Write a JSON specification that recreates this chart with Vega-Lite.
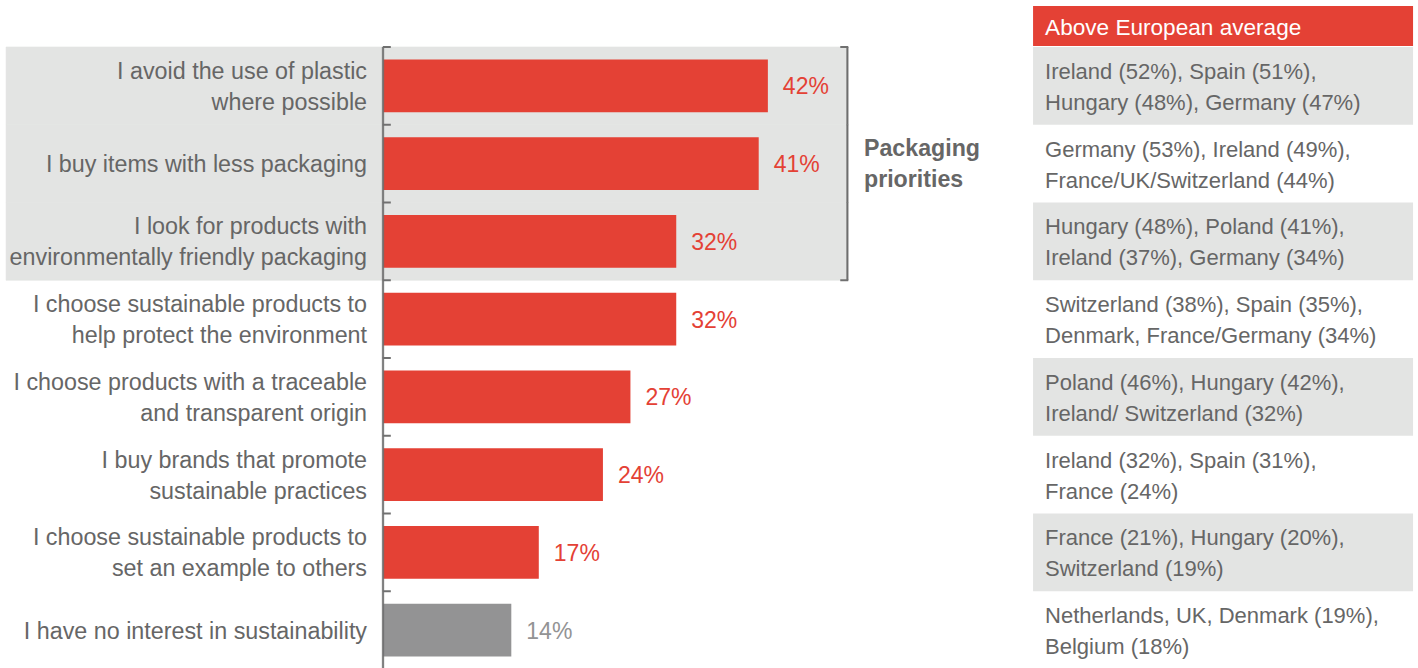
{
  "$schema": "https://vega.github.io/schema/vega-lite/v6.json",
  "padding": {"left": 0, "top": 6, "right": 0, "bottom": 0},
  "spacing": 0,
  "config": {
    "view": {"stroke": null},
    "axis": {"disable": true},
    "text": {"font": "Liberation Sans", "fontSize": 22, "lineHeight": 31, "lineBreak": "\n", "color": "#666666"}
  },
  "datasets": {
    "rows": [
      {"label": "I avoid the use of plastic\nwhere possible", "value": 0.42, "group": "Packaging priorities", "above": "Ireland (52%), Spain (51%),\nHungary (48%), Germany (47%)"},
      {"label": "I buy items with less packaging", "value": 0.41, "group": "Packaging priorities", "above": "Germany (53%), Ireland (49%),\nFrance/UK/Switzerland (44%)"},
      {"label": "I look for products with\nenvironmentally friendly packaging", "value": 0.32, "group": "Packaging priorities", "above": "Hungary (48%), Poland (41%),\nIreland (37%), Germany (34%)"},
      {"label": "I choose sustainable products to\nhelp protect the environment", "value": 0.32, "group": "Sustainable choices", "above": "Switzerland (38%), Spain (35%),\nDenmark, France/Germany (34%)"},
      {"label": "I choose products with a traceable\nand transparent origin", "value": 0.27, "group": "Sustainable choices", "above": "Poland (46%), Hungary (42%),\nIreland/ Switzerland (32%)"},
      {"label": "I buy brands that promote\nsustainable practices", "value": 0.24, "group": "Sustainable choices", "above": "Ireland (32%), Spain (31%),\nFrance (24%)"},
      {"label": "I choose sustainable products to\nset an example to others", "value": 0.17, "group": "Sustainable choices", "above": "France (21%), Hungary (20%),\nSwitzerland (19%)"},
      {"label": "I have no interest in sustainability", "value": 0.14, "group": "No interest", "above": "Netherlands, UK, Denmark (19%),\nBelgium (18%)"}
    ],
    "header": [{"title": "Above European average"}]
  },
  "vconcat": [
    {
      "width": 1418,
      "height": 40,
      "data": {"name": "header"},
      "layer": [
        {
          "mark": {"type": "rect", "color": "#E44135"},
          "encoding": {
            "x": {"datum": 0.7094, "type": "quantitative", "scale": {"domain": [-0.418, 1.1295], "nice": false, "zero": false}},
            "x2": {"datum": 1.1241},
            "y": {"datum": 0, "type": "quantitative", "scale": {"domain": [0, 1], "nice": false}},
            "y2": {"datum": 1}
          }
        },
        {
          "mark": {"type": "text", "align": "left", "baseline": "middle", "dx": 12, "dy": 1.5, "color": "#ffffff", "fontSize": 22.6},
          "encoding": {
            "x": {"datum": 0.7094, "type": "quantitative"},
            "y": {"datum": 0.5, "type": "quantitative"},
            "text": {"field": "title"}
          }
        }
      ]
    },
    {
      "width": 1418,
      "height": 622,
      "data": {"name": "rows"},
      "encoding": {
        "y": {"field": "label", "type": "nominal", "sort": null, "scale": {"paddingInner": 0, "paddingOuter": 0, "domain": [
          "I avoid the use of plastic\nwhere possible",
          "I buy items with less packaging",
          "I look for products with\nenvironmentally friendly packaging",
          "I choose sustainable products to\nhelp protect the environment",
          "I choose products with a traceable\nand transparent origin",
          "I buy brands that promote\nsustainable practices",
          "I choose sustainable products to\nset an example to others",
          "I have no interest in sustainability"
        ]}}
      },
      "layer": [
        {
          "transform": [{"filter": "datum.group === 'Packaging priorities'"}],
          "mark": {"type": "rect", "color": "#E3E4E3", "stroke": "#E3E4E3", "strokeWidth": 0.6},
          "encoding": {
            "x": {"datum": -0.4114, "type": "quantitative", "scale": {"domain": [-0.418, 1.1295], "nice": false, "zero": false}},
            "x2": {"datum": 0.5068}
          }
        },
        {
          "transform": [{"window": [{"op": "row_number", "as": "i"}]}, {"filter": "datum.i % 2 === 1"}],
          "mark": {"type": "rect", "color": "#E3E4E3"},
          "encoding": {
            "x": {"datum": 0.7094, "type": "quantitative"},
            "x2": {"datum": 1.1241}
          }
        },
        {
          "mark": {"type": "bar", "height": {"band": 0.68}},
          "encoding": {
            "x": {"field": "value", "type": "quantitative"},
            "color": {"field": "group", "type": "nominal", "legend": null, "scale": {"domain": ["Packaging priorities", "Sustainable choices", "No interest"], "range": ["#E44135", "#E44135", "#939394"]}}
          }
        },
        {
          "mark": {"type": "rect", "color": "#707070", "stroke": "#707070", "strokeWidth": 0.4},
          "encoding": {
            "x": {"datum": -0.0009, "type": "quantitative"},
            "x2": {"datum": 0.0009}
          }
        },
        {
          "mark": {"type": "rule", "color": "#707070", "strokeWidth": 2},
          "encoding": {
            "y": {"field": "label", "type": "nominal", "bandPosition": 0},
            "x": {"datum": 0, "type": "quantitative"},
            "x2": {"datum": 0.0085}
          }
        },
        {
          "transform": [{"filter": "datum.group === 'No interest'"}],
          "mark": {"type": "rule", "color": "#707070", "strokeWidth": 2},
          "encoding": {
            "y": {"field": "label", "type": "nominal", "bandPosition": 1},
            "x": {"datum": 0, "type": "quantitative"},
            "x2": {"datum": 0.0085}
          }
        },
        {
          "transform": [{"filter": "datum.group === 'Packaging priorities'"}],
          "mark": {"type": "rect", "color": "#707070", "stroke": "#707070", "strokeWidth": 0.4},
          "encoding": {
            "x": {"datum": 0.5059, "type": "quantitative"},
            "x2": {"datum": 0.5077}
          }
        },
        {
          "transform": [{"filter": "datum.label === 'I avoid the use of plastic\\nwhere possible'"}],
          "mark": {"type": "rule", "color": "#707070", "strokeWidth": 2},
          "encoding": {
            "y": {"field": "label", "type": "nominal", "bandPosition": 0},
            "x": {"datum": 0.4990, "type": "quantitative"},
            "x2": {"datum": 0.5077}
          }
        },
        {
          "transform": [{"filter": "datum.label === 'I look for products with\\nenvironmentally friendly packaging'"}],
          "mark": {"type": "rule", "color": "#707070", "strokeWidth": 2},
          "encoding": {
            "y": {"field": "label", "type": "nominal", "bandPosition": 1},
            "x": {"datum": 0.4990, "type": "quantitative"},
            "x2": {"datum": 0.5077}
          }
        },
        {
          "transform": [{"filter": "indexof(datum.label, '\\n') >= 0"}],
          "mark": {"type": "text", "align": "right", "baseline": "middle", "dx": -16, "dy": -14, "fontSize": 23.3},
          "encoding": {
            "x": {"datum": 0, "type": "quantitative"},
            "text": {"field": "label"}
          }
        },
        {
          "transform": [{"filter": "indexof(datum.label, '\\n') < 0"}],
          "mark": {"type": "text", "align": "right", "baseline": "middle", "dx": -16, "dy": 1.5, "fontSize": 23.3},
          "encoding": {
            "x": {"datum": 0, "type": "quantitative"},
            "text": {"field": "label"}
          }
        },
        {
          "mark": {"type": "text", "align": "left", "baseline": "middle", "dx": 15, "dy": 1.5, "fontSize": 23},
          "encoding": {
            "x": {"field": "value", "type": "quantitative"},
            "text": {"field": "value", "format": ".0%"},
            "color": {"field": "group", "type": "nominal", "legend": null}
          }
        },
        {
          "transform": [{"filter": "datum.label === 'I buy items with less packaging'"}],
          "mark": {"type": "text", "align": "left", "baseline": "middle", "fontWeight": "bold", "lineBreak": " ", "dy": -14.5, "fontSize": 23.2},
          "encoding": {
            "x": {"datum": 0.5249, "type": "quantitative"},
            "text": {"field": "group"}
          }
        },
        {
          "mark": {"type": "text", "align": "left", "baseline": "middle", "dx": 12, "dy": -14},
          "encoding": {
            "x": {"datum": 0.7094, "type": "quantitative"},
            "text": {"field": "above"}
          }
        }
      ]
    }
  ]
}
